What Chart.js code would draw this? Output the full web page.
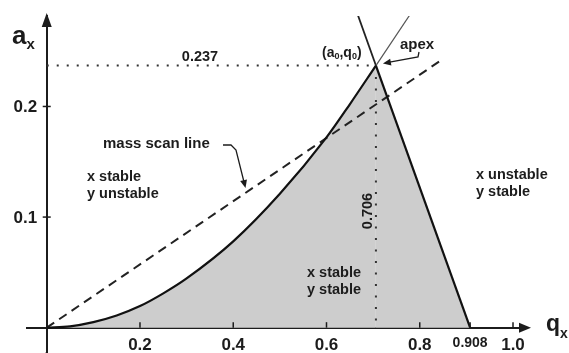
<!DOCTYPE html>
<html>
<head>
<meta charset="utf-8">
<style>
  html, body { margin: 0; padding: 0; background: #fff; }
  #stability { display: block; }
</style>
</head>
<body>
<canvas id="stability" width="569" height="353"></canvas>
<script src="https://cdn.jsdelivr.net/npm/chart.js@4.4.1/dist/chart.umd.min.js"></script>
<script>
// stability boundary a_x(q_x), origin up to the apex
const boundaryQ = [0, 0.05, 0.1, 0.15, 0.2, 0.25, 0.3, 0.4, 0.5, 0.6, 0.65, 0.706];
const boundaryA = [0, 0.0012, 0.005, 0.011, 0.0195, 0.031, 0.0445, 0.078, 0.121, 0.172, 0.202, 0.237];
// same boundary carried on past the apex
const boundaryExtQ = [0.706, 0.779];
const boundaryExtA = [0.237, 0.283];
// right-hand boundary, axis up to the apex, and its continuation
const rightQ = [0.908, 0.706];
const rightA = [0, 0.237];
const rightExtQ = [0.706, 0.667];
const rightExtA = [0.237, 0.283];
// mass scan line
const scanQ = [0, 0.843];
const scanA = [0, 0.241];
// apex (a0, q0)
const apexQ = 0.706;
const apexA = 0.237;

const xTicks = [0.2, 0.4, 0.6, 0.8, 0.908, 1.0];
const xTickLabels = ['0.2', '0.4', '0.6', '0.8', '0.908', '1.0'];
const yTicks = [0.1, 0.2];
const yTickLabels = ['0.1', '0.2'];

const FONT = '"Liberation Sans", Arial, Helvetica, sans-serif';
const INK = '#1c1c1c';
const FILL = 'rgb(205,205,205)';

const pts = (qs, as) => qs.map((q, i) => ({ x: q, y: as[i] }));
const bold = size => 'bold ' + size + 'px ' + FONT;
const noPad = s => { s.paddingTop = 0; s.paddingBottom = 0; s.paddingLeft = 0; s.paddingRight = 0; };

function line(ctx, pts) {
  ctx.beginPath();
  ctx.moveTo(pts[0][0], pts[0][1]);
  for (let i = 1; i < pts.length; i++) ctx.lineTo(pts[i][0], pts[i][1]);
  ctx.stroke();
}

function head(ctx, fx, fy, tx, ty, len, half) {
  const a = Math.atan2(ty - fy, tx - fx);
  const bx = tx - len * Math.cos(a), by = ty - len * Math.sin(a);
  ctx.beginPath();
  ctx.moveTo(tx, ty);
  ctx.lineTo(bx + half * Math.sin(a), by - half * Math.cos(a));
  ctx.lineTo(bx - half * Math.sin(a), by + half * Math.cos(a));
  ctx.closePath();
  ctx.fill();
}

// pieces: [text, size, baseline shift]
function rich(ctx, pieces, x, y) {
  ctx.textAlign = 'left';
  ctx.textBaseline = 'alphabetic';
  pieces.forEach(p => {
    ctx.font = bold(p[1]);
    ctx.fillText(p[0], x, y + p[2]);
    x += ctx.measureText(p[0]).width;
  });
}

const notes = [
  ['0.237', 200, 57, 14.5, 'center'],
  ['apex', 417, 45, 15, 'center'],
  ['mass scan line', 103, 144, 15, 'left'],
  ['x stable', 87, 177, 14.5, 'left'],
  ['y unstable', 87, 194, 14.5, 'left'],
  ['x stable', 307, 273, 14.5, 'left'],
  ['y stable', 307, 290, 14.5, 'left'],
  ['x unstable', 476, 175, 14.5, 'left'],
  ['y stable', 476, 192, 14.5, 'left']
];

const annotations = {
  id: 'annotations',
  afterDraw(chart) {
    const { ctx, chartArea, scales: { x, y } } = chart;
    const x0 = x.getPixelForValue(0), y0 = y.getPixelForValue(0);
    ctx.save();
    ctx.fillStyle = INK;
    ctx.strokeStyle = INK;

    // y axis runs on to the bottom edge
    ctx.lineWidth = 2;
    line(ctx, [[x0, chartArea.bottom - 1], [x0, chart.height]]);

    // tick marks
    ctx.lineWidth = 1.5;
    xTicks.forEach(v => { const px = x.getPixelForValue(v); line(ctx, [[px, y0], [px, y0 - 5.5]]); });
    yTicks.forEach(v => { const py = y.getPixelForValue(v); line(ctx, [[x0 - 4, py], [x0 + 4, py]]); });

    // y tick labels, left of the axis
    ctx.font = bold(17);
    ctx.textAlign = 'right';
    ctx.textBaseline = 'middle';
    yTicks.forEach((v, i) => ctx.fillText(yTickLabels[i], x0 - 9.5, y.getPixelForValue(v) + 1));

    // axis arrows
    head(ctx, 0, y0, chartArea.right + 4, y0, 12, 5);
    head(ctx, x0, y0, x0, chartArea.top - 3, 14, 5);

    // axis titles
    rich(ctx, [['a', 26, 0], ['x', 15, 5]], 12, 43.5);
    rich(ctx, [['q', 23, 0], ['x', 14, 7]], 546, 331);
    rich(ctx, [['(', 14, 0], ['a', 14, 0], ['0', 9, 2], [',', 14, 0], ['q', 14, 0], ['0', 9, 2], [')', 14, 0]], 322, 57);

    // region labels
    ctx.textBaseline = 'middle';
    notes.forEach(n => {
      ctx.font = bold(n[3]);
      ctx.textAlign = n[4];
      ctx.fillText(n[0], n[1], n[2]);
    });

    ctx.save();
    ctx.translate(367.5, 211);
    ctx.rotate(-Math.PI / 2);
    ctx.textAlign = 'center';
    ctx.font = bold(14.5);
    ctx.fillText('0.706', 0, 0);
    ctx.restore();

    // leader arrows
    const ax = x.getPixelForValue(apexQ) + 7, ay = y.getPixelForValue(apexA) - 2;
    ctx.lineWidth = 1.3;
    line(ctx, [[419, 52], [418, 57], [ax + 4, ay - 1]]);
    head(ctx, 418, 57, ax, ay, 8, 3.5);
    line(ctx, [[223, 145], [231, 145], [236, 150], [244, 182]]);
    head(ctx, 236, 150, 245.5, 188, 8, 3.5);

    ctx.restore();
  }
};

new Chart(document.getElementById('stability'), {
  type: 'line',
  data: {
    datasets: [
      { label: 'boundary', data: pts(boundaryQ, boundaryA), borderColor: '#111', borderWidth: 2.2,
        fill: 'origin', backgroundColor: FILL, cubicInterpolationMode: 'monotone' },
      { label: 'right boundary', data: pts(rightQ, rightA), borderColor: '#111', borderWidth: 2.2,
        fill: 'origin', backgroundColor: FILL },
      { label: 'boundary ext', data: pts(boundaryExtQ, boundaryExtA), borderColor: '#555', borderWidth: 1.2, fill: false },
      { label: 'right ext', data: pts(rightExtQ, rightExtA), borderColor: '#222', borderWidth: 1.8, fill: false },
      { label: 'mass scan line', data: pts(scanQ, scanA), borderColor: '#222', borderWidth: 2,
        borderDash: [9, 6], fill: false },
      { label: 'a0', data: [{ x: 0, y: apexA }, { x: apexQ, y: apexA }], borderColor: '#333', borderWidth: 2,
        borderDash: [2, 8], fill: false },
      { label: 'q0', data: [{ x: apexQ, y: apexA }, { x: apexQ, y: 0 }], borderColor: '#333', borderWidth: 2,
        borderDash: [2, 9.5], fill: false }
    ]
  },
  options: {
    responsive: false,
    animation: false,
    layout: { padding: { left: 27, right: 42, top: 16, bottom: 0 } },
    elements: { point: { radius: 0 }, line: { tension: 0 } },
    plugins: {
      legend: { display: false },
      tooltip: { enabled: false },
      filler: { drawTime: 'beforeDatasetsDraw' }
    },
    scales: {
      x: {
        type: 'linear', min: -0.0423, max: 1.03, position: { y: 0 }, z: 1,
        grid: { display: false, drawTicks: false },
        border: { display: true, color: INK, width: 2 },
        afterBuildTicks: s => { s.ticks = xTicks.map(v => ({ value: v })); },
        afterFit: noPad,
        ticks: {
          padding: 7, color: INK, autoSkip: false, maxRotation: 0,
          font: c => ({ family: FONT, weight: 'bold', size: c.tick && c.tick.value === 0.908 ? 14 : 17 }),
          callback: (v, i) => xTickLabels[i]
        }
      },
      y: {
        type: 'linear', min: -0.0229, max: 0.2818, position: { x: 0 }, z: 1,
        grid: { display: false, drawTicks: false },
        border: { display: true, color: INK, width: 2 },
        afterBuildTicks: s => { s.ticks = yTicks.map(v => ({ value: v })); },
        afterFit: noPad,
        ticks: { display: false }
      }
    }
  },
  plugins: [annotations]
});
</script>
</body>
</html>
